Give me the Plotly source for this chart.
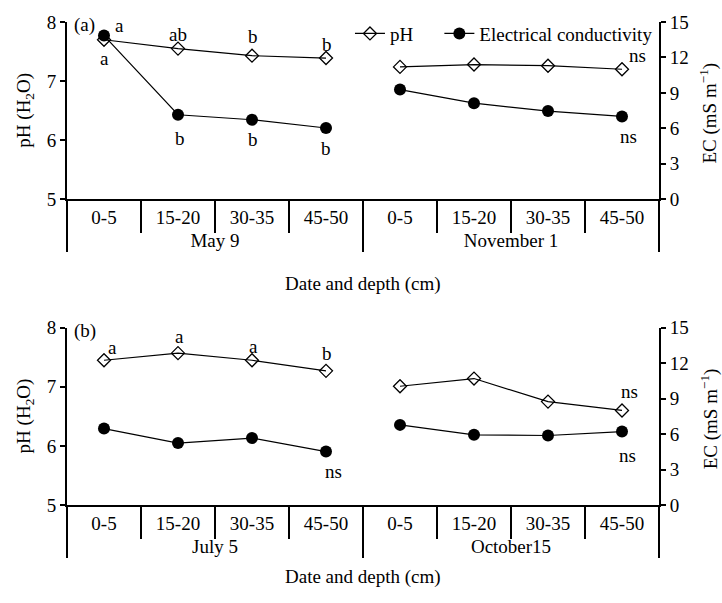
import plotly.graph_objects as go

# ---------------- data ----------------
depths = ["0-5", "15-20", "30-35", "45-50"]
dates_a = ["May 9", "November 1"]
dates_b = ["July 5", "October15"]

ph_may9 = [7.70, 7.55, 7.43, 7.39]
ph_nov1 = [7.24, 7.28, 7.26, 7.20]
ec_may9 = [13.85, 7.15, 6.73, 6.03]
ec_nov1 = [9.28, 8.13, 7.46, 7.01]

ph_jul5 = [7.45, 7.57, 7.45, 7.27]
ph_oct15 = [7.01, 7.14, 6.75, 6.60]
ec_jul5 = [6.47, 5.24, 5.66, 4.52]
ec_oct15 = [6.78, 5.94, 5.88, 6.21]

# significance letters (None = no label)
let_ph_may9 = ["a", "ab", "b", "b"]
let_ec_may9 = ["a", "b", "b", "b"]
let_ph_nov1 = [None, None, None, "ns"]
let_ec_nov1 = [None, None, None, "ns"]
let_ph_jul5 = ["a", "a", "a", "b"]
let_ec_jul5 = [None, None, None, "ns"]
let_ph_oct15 = [None, None, None, "ns"]
let_ec_oct15 = [None, None, None, "ns"]

FONT = "Liberation Serif"
FS = 19

fig = go.Figure()

ph_style = dict(mode="lines+markers", line=dict(color="black", width=1.2),
                marker=dict(symbol="diamond-open", size=10, color="black",
                            line=dict(width=1.3, color="black")))
ec_style = dict(mode="lines+markers", line=dict(color="black", width=1.2),
                marker=dict(symbol="circle", size=12, color="black"))


def add_group(date, ph, ec, xa, ya_ph, ya_ec, legend):
    x = [[date] * len(depths), depths]
    fig.add_trace(go.Scatter(x=x, y=ph, xaxis=xa, yaxis=ya_ph, name="pH",
                             showlegend=legend, legend="legend", **ph_style))
    fig.add_trace(go.Scatter(x=x, y=ec, xaxis=xa, yaxis=ya_ec,
                             name="Electrical conductivity",
                             showlegend=legend, legend="legend2", **ec_style))


add_group(dates_a[0], ph_may9, ec_may9, "x", "y", "y2", True)
add_group(dates_a[1], ph_nov1, ec_nov1, "x", "y", "y2", False)
add_group(dates_b[0], ph_jul5, ec_jul5, "x2", "y3", "y4", False)
add_group(dates_b[1], ph_oct15, ec_oct15, "x2", "y3", "y4", False)

annotations = []
tfont = dict(family=FONT, size=FS, color="black")


def add_letters(letters, vals, offset, xref, yref, dx, dy):
    for i, (l, v) in enumerate(zip(letters, vals)):
        if l is None:
            continue
        sx = dx[i] if isinstance(dx, list) else dx
        sy = dy[i] if isinstance(dy, list) else dy
        annotations.append(dict(x=offset + i, y=v, xref=xref, yref=yref, text=l,
                                showarrow=False, xshift=sx, yshift=sy, font=tfont))


add_letters(let_ph_may9, ph_may9, 0, "x", "y", [0, 0, 1, 1], [-19, 14, 19, 14])
add_letters(let_ec_may9, ec_may9, 0, "x", "y2", [15, 2, 1, 0], [10, -24, -20, -20])
add_letters(let_ph_nov1, ph_nov1, 4, "x", "y", 15, 14)
add_letters(let_ec_nov1, ec_nov1, 4, "x", "y2", 6, -20)
add_letters(let_ph_jul5, ph_jul5, 0, "x2", "y3", [8, 1, 1, 1], [13, 17, 14, 17])
add_letters(let_ec_jul5, ec_jul5, 0, "x2", "y4", 7, -20)
add_letters(let_ph_oct15, ph_oct15, 4, "x2", "y3", 7, 19)
add_letters(let_ec_oct15, ec_oct15, 4, "x2", "y4", 5, -24)

for txt, yy in [("(a)", 1.0), ("(b)", 0.367)]:
    annotations.append(dict(x=0, y=yy, xref="paper", yref="paper", text=txt,
                            showarrow=False, xanchor="left", yanchor="top",
                            xshift=5, yshift=10, font=tfont))

for yy in [0.4577, -0.175]:
    annotations.append(dict(x=0.5, y=yy, xref="paper", yref="paper",
                            text="Date and depth (cm)", showarrow=False, font=tfont))

# y-axis titles
for yy in [0.8165, 0.1835]:
    annotations.append(dict(x=-0.0709, y=yy, xref="paper", yref="paper",
                            xanchor="center", yanchor="middle",
                            text="pH (H<sub>2</sub>O)", textangle=-90,
                            showarrow=False, font=tfont))
    annotations.append(dict(x=1.0845, y=yy - 0.006, xref="paper", yref="paper",
                            xanchor="center", yanchor="middle",
                            text="EC (mS m<sup>−1</sup>)", textangle=-90,
                            showarrow=False, font=tfont))

xcommon = dict(showline=True, linecolor="black", linewidth=2, ticks="outside",
               ticklen=32, tickwidth=2, tickcolor="black", showgrid=False,
               zeroline=False, showdividers=True, dividercolor="black",
               dividerwidth=2, tickfont=tfont, range=[-0.5, 7.5])
ycommon_ph = dict(showline=True, linecolor="black", linewidth=2, ticks="outside",
                  ticklen=5, tickwidth=2, tickcolor="black", showgrid=False,
                  zeroline=False, range=[5, 8], dtick=1, tickfont=tfont)
ycommon_ec = dict(showline=True, linecolor="black", linewidth=2, ticks="outside",
                  ticklen=5, tickwidth=2, tickcolor="black", showgrid=False,
                  zeroline=False, range=[0, 15], dtick=3, side="right",
                  tickfont=tfont)

leg_common = dict(orientation="h", yanchor="middle", xanchor="left",
                  bgcolor="rgba(0,0,0,0)", font=dict(family=FONT, size=FS),
                  itemwidth=30)

fig.update_layout(
    width=722, height=603,
    margin=dict(l=67, r=63, t=20, b=98),
    paper_bgcolor="white", plot_bgcolor="white",
    font=dict(family=FONT, size=FS, color="black"),
    xaxis=dict(domain=[0, 1], anchor="y", **xcommon),
    yaxis=dict(domain=[0.633, 1], anchor="x", **ycommon_ph),
    yaxis2=dict(overlaying="y", anchor="x", **ycommon_ec),
    xaxis2=dict(domain=[0, 1], anchor="y3", **xcommon),
    yaxis3=dict(domain=[0, 0.367], anchor="x2", **ycommon_ph),
    yaxis4=dict(overlaying="y3", anchor="x2", **ycommon_ec),
    legend=dict(x=0.478, y=0.976, **leg_common),
    legend2=dict(x=0.629, y=0.976, **leg_common),
    annotations=annotations,
)

fig.write_html("out.html")
